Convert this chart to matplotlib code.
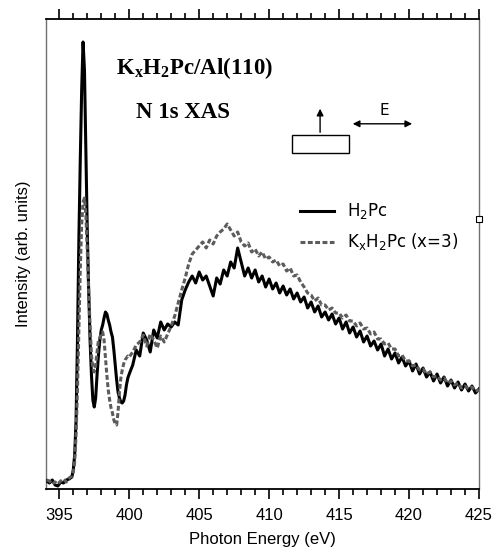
import numpy as np
import matplotlib
matplotlib.use("Agg")
import matplotlib.pyplot as plt
from matplotlib.patches import Rectangle

# photon energy sampling grid (eV)
energy = np.round(np.concatenate([
    np.arange(394.1, 396.0, 0.2),
    np.arange(396.0, 400.05, 0.1),
    np.arange(400.25, 425.01, 0.25),
]), 2)

# H2Pc, N 1s XAS (arb. units)
h2pc = [
    8, 6, 9, 4, 3, 7, 6, 9, 10, 12,
    19, 34, 69, 149, 249, 329, 399, 447, 419, 339,
    259, 199, 149, 114, 89, 82, 91, 114, 134, 149,
    159, 164, 171, 177, 175, 169, 164, 157, 152, 139,
    124, 109, 97, 91, 87, 86, 88, 94, 104, 111,
    115,
    124, 139, 133, 156, 149, 137, 159, 151, 167, 159,
    165, 162, 167, 164, 189, 199, 207, 213, 206, 217,
    209, 213, 203, 193, 211, 205, 219, 213, 227, 221,
    241, 227, 213, 221, 211, 219, 207, 213, 202, 210,
    200, 206, 196, 203, 194, 200, 190, 196, 187, 192,
    181, 187, 177, 183, 172, 177, 169, 175, 165, 171,
    160, 167, 156, 162, 152, 158, 147, 153, 143, 148,
    139, 145, 133, 140, 130, 136, 126, 132, 123, 128,
    118, 125, 115, 121, 112, 117, 108, 115, 106, 112,
    103, 109, 101, 107, 99, 105, 98, 103, 96, 100,
]

# KxH2Pc (x=3)
kxh2pc = [
    9, 8, 5, 7, 5, 8, 10, 7, 11, 13,
    17, 27, 54, 99, 159, 219, 264, 287, 291, 274,
    239, 199, 164, 134, 121, 117, 124, 137, 149, 151,
    156, 157, 149, 131, 114, 99, 89, 81, 76, 69,
    65, 64, 77, 97, 111, 119, 125, 129, 131, 133,
    132,
    137, 144, 147, 154, 143, 155, 149, 141, 153, 147,
    155, 163, 173, 186, 199, 211, 225, 235, 239, 243,
    247, 241, 249, 245, 253, 257, 260, 265, 259, 253,
    257, 247, 243, 246, 237, 240, 233, 237, 230, 232,
    227, 229, 223, 225, 218, 221, 213, 214, 207, 202,
    196, 194, 188, 191, 184, 184, 179, 181, 176, 176,
    171, 174, 168, 168, 163, 166, 160, 161, 155, 157,
    150, 150, 145, 146, 140, 140, 133, 134, 128, 128,
    123, 124, 119, 120, 115, 117, 112, 113, 109, 111,
    106, 108, 104, 106, 101, 103, 100, 102, 98, 99,
]

xticks = [395, 400, 405, 410, 415, 420, 425]

fig = plt.figure(figsize=(4.95, 5.55), dpi=100)
ax = fig.add_axes([0.0929, 0.1189, 0.8748, 0.8469])

ax.plot(energy, h2pc, color='black', lw=2.2, label=r'H$_\mathregular{2}$Pc', zorder=3)
ax.plot(energy, kxh2pc, color='#5c5c5c', lw=2.2, dashes=(1.6, 0.8),
        label=r'K$_\mathregular{x}$H$_\mathregular{2}$Pc (x=3)', zorder=4)

ax.set_xlim(394.05, 425)
ax.set_ylim(0, 470)
ax.set_xticks(xticks)
ax.set_xticks(np.arange(395, 425, 1), minor=True)
ax.set_yticks([])
ax.tick_params(axis='x', which='both', direction='out', top=True, labeltop=False,
               width=1.2, labelsize=12, pad=7)
ax.tick_params(axis='x', which='major', length=7)
ax.tick_params(axis='x', which='minor', length=4)
for lab in ax.get_xticklabels():
    lab.set_fontfamily('Liberation Sans')

for s in ['left', 'right']:
    ax.spines[s].set_color('#707070')
    ax.spines[s].set_linewidth(1.0)
for s in ['top', 'bottom']:
    ax.spines[s].set_linewidth(1.3)

ax.set_xlabel('Photon Energy (eV)', fontsize=12, family='Liberation Sans', labelpad=6)
ax.set_ylabel('Intensity (arb. units)', fontsize=12, family='Liberation Sans', labelpad=11)

ax.text(0.162, 0.896, r'K$_\mathregular{x}$H$_\mathregular{2}$Pc/Al(110)', transform=ax.transAxes,
        fontsize=16.5, family='Liberation Serif', weight='bold', va='center')
ax.text(0.208, 0.802, 'N 1s XAS', transform=ax.transAxes,
        fontsize=16.5, family='Liberation Serif', weight='bold', va='center')

# sample / polarisation sketch
ax.add_patch(Rectangle((0.568, 0.715), 0.132, 0.038, transform=ax.transAxes,
                       fill=False, ec='black', lw=1.0))
ax.annotate('', xy=(0.633, 0.815), xytext=(0.633, 0.753), xycoords='axes fraction',
            arrowprops=dict(arrowstyle='-|>', color='black', lw=1.0, mutation_scale=10))
ax.annotate('', xy=(0.852, 0.777), xytext=(0.702, 0.777), xycoords='axes fraction',
            arrowprops=dict(arrowstyle='<|-|>', color='black', lw=1.0, mutation_scale=10))
ax.text(0.781, 0.806, 'E', transform=ax.transAxes, fontsize=11, ha='center', va='center')

ax.plot([1.0], [0.574], transform=ax.transAxes, marker='s', ms=5, mfc='white',
        mec='black', mew=0.8, clip_on=False, zorder=5)

ax.legend(loc='upper left', bbox_to_anchor=(0.572, 0.626), frameon=False, fontsize=12,
          handlelength=2.0, handletextpad=0.8, labelspacing=0.6, borderaxespad=0)

fig.savefig('out.png', dpi=100)
